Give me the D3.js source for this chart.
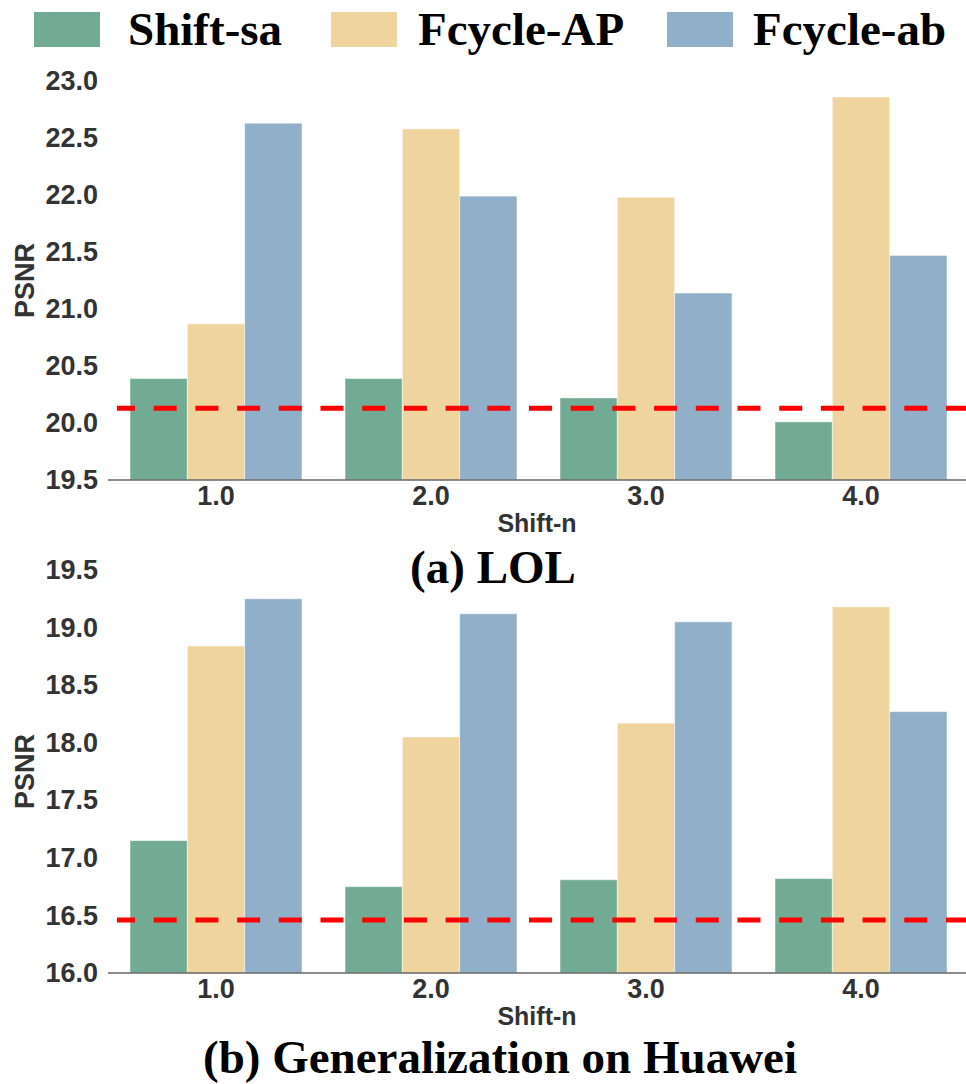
<!DOCTYPE html>
<html>
<head>
<meta charset="utf-8">
<script src="https://cdn.jsdelivr.net/npm/d3@7"></script>
<style>
  html, body { margin: 0; padding: 0; background: #fff; }
  svg { display: block; }
  .tick text { font-family: "Liberation Sans", Arial, sans-serif; font-weight: bold; fill: #333; }
</style>
</head>
<body>
<svg id="chart" width="966" height="1084"></svg>
<script>
// ---- data ----
const categories = ["1.0", "2.0", "3.0", "4.0"];
const seriesNames = ["Shift-sa", "Fcycle-AP", "Fcycle-ab"];
const seriesColors = ["#72AB93", "#F0D49E", "#90AFC9"];

const lolShiftSa  = [20.39, 20.39, 20.22, 20.01];
const lolFcycleAP = [20.87, 22.58, 21.98, 22.86];
const lolFcycleAb = [22.63, 21.99, 21.14, 21.47];
const lolBaseline = 20.13;
const lolTicks = [19.5, 20.0, 20.5, 21.0, 21.5, 22.0, 22.5, 23.0];

const hwShiftSa  = [17.15, 16.75, 16.81, 16.82];
const hwFcycleAP = [18.84, 18.05, 18.17, 19.18];
const hwFcycleAb = [19.25, 19.12, 19.05, 18.27];
const hwBaseline = 16.46;
const hwTicks = [16.0, 16.5, 17.0, 17.5, 18.0, 18.5, 19.0, 19.5];

const xLabel = "Shift-n";
const yLabel = "PSNR";
const captions = ["(a) LOL", "(b) Generalization on Huawei"];

// ---- drawing ----
const svg = d3.select("#chart");
const sansFont = '"Liberation Sans", Arial, sans-serif';
const serifFont = '"Liberation Serif", "Times New Roman", serif';

// legend
const legendItems = [
  { name: seriesNames[0], color: seriesColors[0], rx: 34, tx: 128 },
  { name: seriesNames[1], color: seriesColors[1], rx: 331, tx: 418 },
  { name: seriesNames[2], color: seriesColors[2], rx: 667, tx: 753 }
];
const lg = svg.append("g");
legendItems.forEach(d => {
  lg.append("rect").attr("x", d.rx).attr("y", 12).attr("width", 66).attr("height", 35).attr("fill", d.color);
  lg.append("text").attr("x", d.tx).attr("y", 45)
    .attr("font-family", serifFont).attr("font-weight", "bold").attr("font-size", 47)
    .attr("fill", "#000").text(d.name);
});

function drawPanel(cfg) {
  const g = svg.append("g");
  const x0 = d3.scaleBand().domain(categories).range([108.5, 968.5]).paddingInner(0.2).paddingOuter(0.1);
  const x1 = d3.scaleBand().domain(seriesNames).range([0, x0.bandwidth()]);
  const y = d3.scaleLinear().domain([cfg.ticks[0], cfg.ticks[cfg.ticks.length - 1]]).range([cfg.bottom, cfg.top]);

  const rows = categories.map((c, i) => ({
    cat: c,
    vals: seriesNames.map((s, j) => ({ s, v: cfg.series[j][i], color: seriesColors[j] }))
  }));

  const grp = g.selectAll("g.grp").data(rows).join("g")
    .attr("transform", d => `translate(${x0(d.cat)},0)`);
  grp.selectAll("rect").data(d => d.vals).join("rect")
    .attr("x", d => x1(d.s))
    .attr("width", x1.bandwidth())
    .attr("y", d => y(d.v))
    .attr("height", d => y(cfg.ticks[0]) - y(d.v))
    .attr("fill", d => d.color)
    .attr("stroke", "#ffffff").attr("stroke-opacity", 0.5).attr("stroke-width", 1);

  // baseline dashed
  g.append("line")
    .attr("x1", 117).attr("x2", 966)
    .attr("y1", y(cfg.baseline)).attr("y2", y(cfg.baseline))
    .attr("stroke", "#FF0000").attr("stroke-width", 5)
    .attr("stroke-dasharray", "23 18.7").attr("stroke-dashoffset", 5);

  // y axis
  const ya = g.append("g").attr("transform", "translate(108,0)")
    .call(d3.axisLeft(y).tickValues(cfg.ticks).tickFormat(d3.format(".1f")).tickSize(0).tickPadding(10));
  ya.select(".domain").remove();
  ya.selectAll("text").attr("font-size", 27).attr("font-family", sansFont).attr("font-weight", "bold").attr("fill", "#333");

  // x axis
  const xa = g.append("g").attr("transform", `translate(0,${cfg.bottom})`)
    .call(d3.axisBottom(x0).tickSize(0).tickPadding(6));
  xa.select(".domain").attr("d", "M108,0H966").attr("stroke", "#666").attr("stroke-width", 1.5);
  xa.selectAll("text").attr("font-size", 27).attr("font-family", sansFont).attr("font-weight", "bold").attr("fill", "#333");

  // x label
  g.append("text").attr("x", 537).attr("y", cfg.bottom + 52)
    .attr("text-anchor", "middle").attr("font-family", sansFont).attr("font-weight", "bold")
    .attr("font-size", 25).attr("fill", "#333").text(xLabel);

  // y label
  g.append("text")
    .attr("transform", `translate(34,${(cfg.top + cfg.bottom) / 2}) rotate(-90)`)
    .attr("text-anchor", "middle").attr("font-family", sansFont).attr("font-weight", "bold")
    .attr("font-size", 27).attr("fill", "#333").text(yLabel);

  // caption
  g.append("text").attr("x", cfg.capX).attr("y", cfg.capY)
    .attr("text-anchor", "middle").attr("font-family", serifFont).attr("font-weight", "bold")
    .attr("font-size", 47).attr("fill", "#000").text(cfg.caption);
}

drawPanel({
  series: [lolShiftSa, lolFcycleAP, lolFcycleAb],
  baseline: lolBaseline, ticks: lolTicks,
  top: 81, bottom: 480,
  caption: captions[0], capX: 493, capY: 583
});
drawPanel({
  series: [hwShiftSa, hwFcycleAP, hwFcycleAb],
  baseline: hwBaseline, ticks: hwTicks,
  top: 570, bottom: 973,
  caption: captions[1], capX: 500, capY: 1073
});
</script>
</body>
</html>
